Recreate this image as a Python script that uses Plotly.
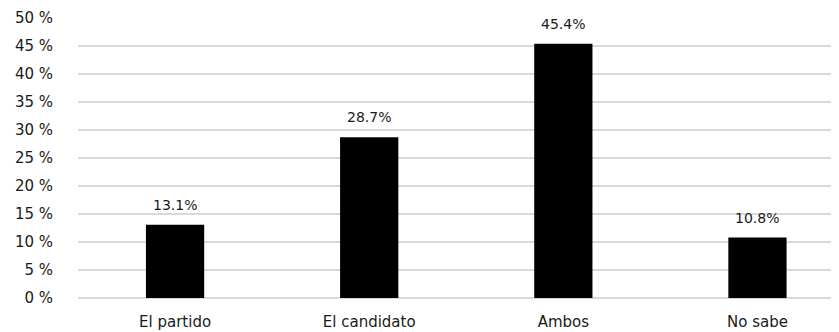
import plotly.graph_objects as go

categories = ["El partido", "El candidato", "Ambos", "No sabe"]
values = [13.1, 28.7, 45.4, 10.8]
y_ticks = [0, 5, 10, 15, 20, 25, 30, 35, 40, 45, 50]
y_tick_labels = [f"{v} %" for v in y_ticks]
value_labels = [f"{v}%" for v in values]

font_family = "DejaVu Sans, Open Sans, sans-serif"
text_color = "#1a1a1a"

fig = go.Figure()
fig.add_trace(go.Bar(
    x=categories, y=values, marker=dict(color="#000000", line=dict(width=0)),
    width=0.3, hoverinfo="skip",
))
for c, v, t in zip(categories, values, value_labels):
    fig.add_annotation(x=c, y=v, text=t, showarrow=False, yanchor="bottom",
                       yshift=10, font=dict(size=14, color=text_color, family=font_family))

# page has an 8px body margin; offset figure so the plot lands where the reference has it
fig.update_layout(
    width=831, height=324,
    margin=dict(l=70, r=0, t=10, b=34, autoexpand=False),
    plot_bgcolor="white", paper_bgcolor="white",
    showlegend=False,
    font=dict(family=font_family, color=text_color, size=14),
)
fig.update_xaxes(range=[-0.5, 3.42], showgrid=False, showline=False, ticks="",
                 tickfont=dict(size=15), ticklabelstandoff=13, automargin=False)
fig.update_yaxes(range=[0, 50], tickvals=y_ticks, ticktext=y_tick_labels,
                 showgrid=True, gridcolor="#d9d9d9", gridwidth=2,
                 zeroline=True, zerolinecolor="#d9d9d9", zerolinewidth=2,
                 showline=False, ticks="", tickfont=dict(size=15),
                 ticklabelstandoff=24, automargin=False)

fig.write_html("out.html")
